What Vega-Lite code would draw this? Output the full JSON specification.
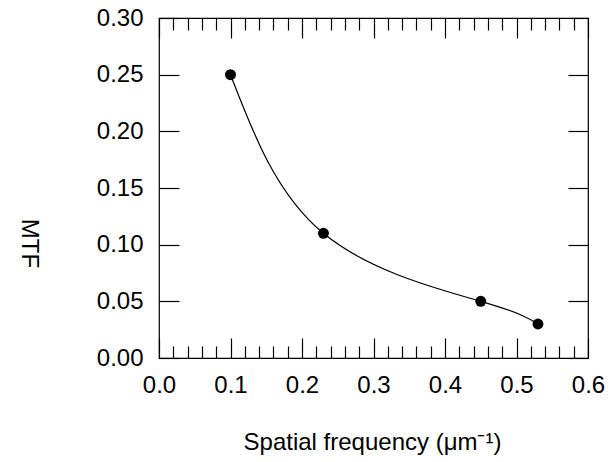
{
  "$schema": "https://vega.github.io/schema/vega-lite/v6.json",
  "autosize": {"type": "none"},
  "padding": {"left": 159, "top": 18, "right": 22, "bottom": 104},
  "width": 429,
  "height": 340,
  "background": "white",
  "config": {
    "view": {"stroke": "black", "strokeWidth": 1.2},
    "font": "Liberation Sans",
    "axis": {
      "grid": false,
      "domain": false,
      "tickColor": "black",
      "tickWidth": 1.2,
      "labelColor": "black",
      "titleColor": "black",
      "labelFont": "Liberation Sans",
      "titleFont": "Liberation Sans",
      "labelFontSize": 24,
      "titleFontSize": 24,
      "titleFontWeight": "normal"
    }
  },
  "data": {
    "values": [
      {"freq": 0.1, "mtf": 0.25},
      {"freq": 0.23, "mtf": 0.11},
      {"freq": 0.45, "mtf": 0.05},
      {"freq": 0.53, "mtf": 0.03}
    ]
  },
  "resolve": {"axis": {"x": "independent", "y": "independent"}},
  "layer": [
    {
      "mark": {"type": "line", "interpolate": "natural", "color": "black", "strokeWidth": 1.2},
      "encoding": {
        "x": {
          "field": "freq", "type": "quantitative",
          "scale": {"domain": [0, 0.6], "nice": false, "zero": false},
          "axis": {
            "orient": "bottom", "values": [0, 0.1, 0.2, 0.3, 0.4, 0.5, 0.6], "format": ".1f",
            "tickSize": -20, "labelPadding": 35, "labelFlush": false,
            "title": "Spatial frequency (μm⁻¹)", "titleX": 213, "titleY": 91,
            "titleAlign": "center", "titleBaseline": "alphabetic"
          }
        },
        "y": {
          "field": "mtf", "type": "quantitative",
          "scale": {"domain": [0, 0.3], "nice": false, "zero": false},
          "axis": {
            "orient": "left", "values": [0, 0.05, 0.1, 0.15, 0.2, 0.25, 0.3], "format": ".2f",
            "tickSize": -20, "labelPadding": 36, "labelFlush": false,
            "title": "MTF", "titleAngle": 90, "titleX": -131, "titleY": 225,
            "titleAlign": "center", "titleBaseline": "middle"
          }
        }
      }
    },
    {
      "mark": {"type": "point", "filled": true, "color": "black", "opacity": 1, "size": 120},
      "encoding": {
        "x": {
          "field": "freq", "type": "quantitative",
          "axis": {"orient": "top", "values": [0, 0.1, 0.2, 0.3, 0.4, 0.5, 0.6], "tickSize": -20, "labels": false, "title": null}
        },
        "y": {
          "field": "mtf", "type": "quantitative",
          "axis": {"orient": "right", "values": [0, 0.05, 0.1, 0.15, 0.2, 0.25, 0.3], "tickSize": -20, "labels": false, "title": null}
        }
      }
    },
    {
      "mark": {"type": "point", "opacity": 0},
      "encoding": {
        "x": {
          "field": "freq", "type": "quantitative",
          "axis": {"orient": "bottom", "values": [0.02, 0.04, 0.06, 0.08, 0.12, 0.14, 0.16, 0.18, 0.22, 0.24, 0.26, 0.28, 0.32, 0.34, 0.36, 0.38, 0.42, 0.44, 0.46, 0.48, 0.52, 0.54, 0.56, 0.58], "tickSize": -12, "labels": false, "title": null}
        },
        "y": {"field": "mtf", "type": "quantitative", "axis": null}
      }
    },
    {
      "mark": {"type": "point", "opacity": 0},
      "encoding": {
        "x": {
          "field": "freq", "type": "quantitative",
          "axis": {"orient": "top", "values": [0.02, 0.04, 0.06, 0.08, 0.12, 0.14, 0.16, 0.18, 0.22, 0.24, 0.26, 0.28, 0.32, 0.34, 0.36, 0.38, 0.42, 0.44, 0.46, 0.48, 0.52, 0.54, 0.56, 0.58], "tickSize": -12, "labels": false, "title": null}
        },
        "y": {"field": "mtf", "type": "quantitative", "axis": null}
      }
    }
  ]
}
